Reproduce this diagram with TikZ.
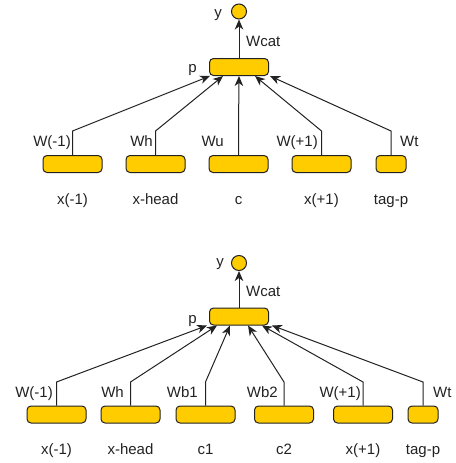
\documentclass[tikz,border=0pt]{standalone}
\usepackage{fontspec}
\setmainfont{Liberation Sans}
\usetikzlibrary{arrows.meta}
\definecolor{gold}{HTML}{FFCC00}
\definecolor{ink}{HTML}{222222}
\newcommand{\lblfont}{\fontsize{15}{18}\selectfont}
\tikzset{
  unit/.style={draw=ink, fill=gold, rounded corners=4pt, minimum height=17pt, inner sep=0pt, line width=1pt},
  wide/.style={unit, minimum width=59pt},
  narrow/.style={unit, minimum width=30pt},
  outcircle/.style={circle, draw=ink, fill=gold, minimum size=15pt, inner sep=0pt, line width=1pt},
  conn/.style={draw=ink, line width=1pt},
  arr/.style={conn, -{Stealth[length=10pt,width=8.5pt,inset=3pt]}},
  lbl/.style={font=\lblfont, text=ink, inner sep=0pt}
}
\begin{document}
\begin{tikzpicture}[x=1pt,y=-1pt]
\useasboundingbox (0,0) rectangle (455,463);
% ---------- top diagram ----------
\node[outcircle] (ya) at (239,11.5) {};
\node[wide] (pa) at (239,67) {};
\node[wide] (a1) at (72.5,164) {};
\node[wide] (a2) at (155.5,164) {};
\node[wide] (a3) at (238.5,164) {};
\node[wide] (a4) at (321.5,164) {};
\node[narrow] (a5) at (391,164) {};
\coordinate (ka1) at (72.5,131);
\coordinate (ka2) at (155.5,131);
\coordinate (ka3) at (238.5,131);
\coordinate (ka4) at (321.5,131);
\coordinate (ka5) at (391,131);
\draw[arr] (pa.north) -- (ya.south);
\draw[arr] (a1.north) -- (ka1) -- ([xshift=-29pt]pa.south);
\draw[arr] (a2.north) -- (ka2) -- ([xshift=-16pt]pa.south);
\draw[arr] (a3.north) -- (ka3) -- ([xshift=0pt]pa.south);
\draw[arr] (a4.north) -- (ka4) -- ([xshift=16pt]pa.south);
\draw[arr] (a5.north) -- (ka5) -- ([xshift=31pt]pa.south);
\node[lbl, anchor=base east] (tya) at (222,17) {y};
\node[lbl, anchor=base west] (twa) at (246,46) {Wcat};
\node[lbl, anchor=base east] (tpa) at (197,72) {p};
\node[lbl, anchor=base east] (wa1) at (71,146) {W(-1)};
\node[lbl, anchor=base east] (wa2) at (153,146) {Wh};
\node[lbl, anchor=base east] (wa3) at (224,146) {Wu};
\node[lbl, anchor=base east] (wa4) at (318,146) {W(+1)};
\node[lbl, anchor=base west] (wa5) at (400,146) {Wt};
\node[lbl, anchor=base] (xa1) at (72.5,204) {x(-1)};
\node[lbl, anchor=base] (xa2) at (155.5,204) {x-head};
\node[lbl, anchor=base] (xa3) at (238.5,204) {c};
\node[lbl, anchor=base] (xa4) at (321.5,204) {x(+1)};
\node[lbl, anchor=base] (xa5) at (391,204) {tag-p};
% ---------- bottom diagram ----------
\node[outcircle] (yb) at (239,263) {};
\node[wide] (pb) at (239,316.5) {};
\node[wide] (b1) at (56.5,414.5) {};
\node[wide] (b2) at (130.5,414.5) {};
\node[wide] (b3) at (205.5,414.5) {};
\node[wide] (b4) at (284,414.5) {};
\node[wide] (b5) at (363,414.5) {};
\node[narrow] (b6) at (423,414.5) {};
\coordinate (kb1) at (56.5,382);
\coordinate (kb2) at (130.5,382);
\coordinate (kb3) at (205.5,382);
\coordinate (kb4) at (284,382);
\coordinate (kb5) at (363,382);
\coordinate (kb6) at (423,382);
\draw[arr] (pb.north) -- (yb.south);
\draw[arr] (b1.north) -- (kb1) -- ([xshift=-32pt]pb.south);
\draw[arr] (b2.north) -- (kb2) -- ([xshift=-22pt]pb.south);
\draw[arr] (b3.north) -- (kb3) -- ([xshift=-9pt]pb.south);
\draw[arr] (b4.north) -- (kb4) -- ([xshift=9pt]pb.south);
\draw[arr] (b5.north) -- (kb5) -- ([xshift=23pt]pb.south);
\draw[arr] (b6.north) -- (kb6) -- ([xshift=33pt]pb.south);
\node[lbl, anchor=base east] (tyb) at (224,266) {y};
\node[lbl, anchor=base west] (twb) at (246,296) {Wcat};
\node[lbl, anchor=base east] (tpb) at (197,323) {p};
\node[lbl, anchor=base east] (wb1) at (53,397) {W(-1)};
\node[lbl, anchor=base east] (wb2) at (124,397) {Wh};
\node[lbl, anchor=base east] (wb3) at (198,397) {Wb1};
\node[lbl, anchor=base east] (wb4) at (278,397) {Wb2};
\node[lbl, anchor=base east] (wb5) at (361,397) {W(+1)};
\node[lbl, anchor=base west] (wb6) at (433,397) {Wt};
\node[lbl, anchor=base] (xb1) at (56.5,454) {x(-1)};
\node[lbl, anchor=base] (xb2) at (130.5,454) {x-head};
\node[lbl, anchor=base] (xb3) at (205.5,454) {c1};
\node[lbl, anchor=base] (xb4) at (284,454) {c2};
\node[lbl, anchor=base] (xb5) at (363,454) {x(+1)};
\node[lbl, anchor=base] (xb6) at (423,454) {tag-p};
\end{tikzpicture}
\end{document}
